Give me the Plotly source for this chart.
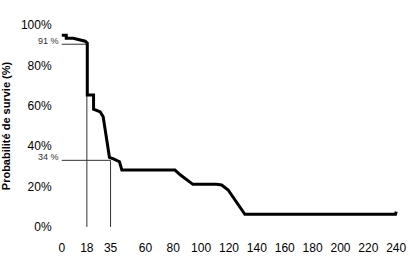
import plotly.graph_objects as go

# Survival curve (months, %)
months = [0, 3.2, 3.2, 8.2, 16.8, 18.3, 18.3, 22.8, 22.8, 27.6, 29.7, 34.2, 37.1, 41.4, 43.1,
          81.2, 85.2, 92, 94.1, 111, 114.7, 119.4, 131.4, 239.5, 240]
survival = [95, 95, 93.4, 93.4, 92, 91, 65.3, 65.3, 58.3, 57, 54.6, 34.5, 33.7, 32.3, 28.2,
            28.2, 25.7, 22.4, 21.1, 21.1, 20.8, 18.3, 6.3, 6.3, 7.6]

# Reference markers
ref_x = [18, 35]
ref_y = [90.5, 33]
ref_labels = ["91 %", "34 %"]

x_ticks = [0, 18, 35, 60, 80, 100, 120, 140, 160, 180, 200, 220, 240]
y_ticks = [0, 20, 40, 60, 80, 100]
y_tick_labels = ["0%", "20%", "40%", "60%", "80%", "100%"]

fig = go.Figure()

ref_color = "#333333"
for rx, ry in zip(ref_x, ref_y):
    fig.add_trace(go.Scatter(x=[0, rx, rx], y=[ry, ry, 0], mode="lines",
                             line=dict(color=ref_color, width=1), hoverinfo="skip",
                             showlegend=False))

fig.add_trace(go.Scatter(x=months, y=survival, mode="lines",
                         line=dict(color="black", width=3), showlegend=False))

for ry, lab in zip(ref_y, ref_labels):
    fig.add_annotation(x=0, y=ry, xref="x", yref="y", text=lab, showarrow=False,
                       xanchor="right", yanchor="bottom", xshift=-1, yshift=-4,
                       font=dict(family="Liberation Sans, Arial", size=9, color="#333333"))

fig.update_layout(
    width=410, height=259,
    margin=dict(l=58.7, r=10.5, t=21, b=28, autoexpand=False),
    paper_bgcolor="white", plot_bgcolor="white",
    font=dict(family="Liberation Sans, Arial", size=12, color="black"),
    xaxis=dict(range=[-2, 242], tickmode="array", tickvals=x_ticks, automargin=False,
               showgrid=False, zeroline=False, showline=False,
               ticks="outside", ticklen=6, tickcolor="rgba(0,0,0,0)",
               tickfont=dict(size=12)),
    yaxis=dict(range=[-2, 102], tickmode="array", tickvals=y_ticks, automargin=False,
               ticktext=y_tick_labels, showgrid=False, zeroline=False, showline=False,
               ticks="outside", ticklen=4, tickcolor="rgba(0,0,0,0)",
               title=dict(text="<b>Probabilité de survie (%)</b>", standoff=8,
                          font=dict(size=11)),
               tickfont=dict(size=12)),
)

fig.write_html("out.html")
